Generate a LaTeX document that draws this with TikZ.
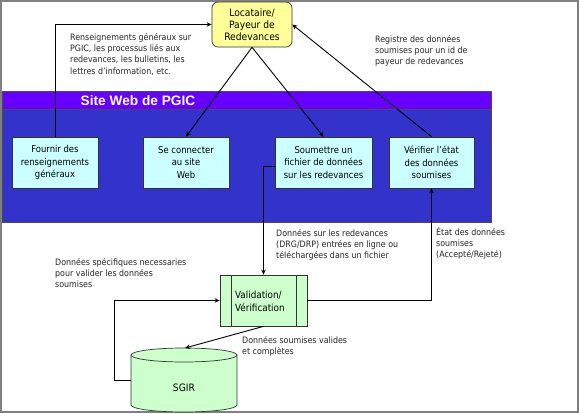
\documentclass[tikz,border=0pt]{standalone}
\usepackage{fontspec}
\setmainfont{DejaVu Sans Condensed}
\newfontfamily\titlefont{Liberation Sans}
\usetikzlibrary{arrows.meta}
\definecolor{webblue}{HTML}{3333CC}
\definecolor{webpurple}{HTML}{6600FF}
\definecolor{boxcyan}{HTML}{CCFFFF}
\definecolor{boxyellow}{HTML}{FFFF99}
\definecolor{boxgreen}{HTML}{CCFFCC}
\definecolor{framegray}{HTML}{808080}
\begin{document}
\begin{tikzpicture}[x=1pt,y=-1pt,
  arr/.style={draw=black,line width=0.9pt,-{Stealth[length=5pt,width=4.5pt]}},
  taskbox/.style={draw=black!80,line width=0.7pt,fill=boxcyan,minimum height=51pt,inner sep=1pt,align=center,font=\fontsize{9.4}{12.8}\selectfont},
  note/.style={anchor=north west,inner sep=0pt,align=left,font=\fontsize{8.8}{11.3}\selectfont,text=black!85}]
\useasboundingbox (0,0) rectangle (580,414);
\fill[white] (0,0) rectangle (580,414);
\draw[framegray,line width=1.5pt] (1,1) rectangle (578,412);
% web site band
\fill[webblue] (2,91) rectangle (491,222);
\fill[webpurple] (2,91) rectangle (491,109);
\draw[black!70,line width=0.6pt] (2,109) -- (491,109);
\draw[black!70,line width=0.6pt] (2,91) rectangle (491,222);
\node[font=\titlefont\bfseries\fontsize{13.7}{15}\selectfont,text=white] (title) at (138,100.5) {Site Web de PGIC};
% nodes
\node[draw=black!80,line width=0.7pt,fill=boxyellow,rounded corners=6pt,minimum width=80pt,minimum height=45pt,align=center,inner sep=1pt,font=\fontsize{10.2}{12}\selectfont] (loc) at (252,24.5) {Locataire/\\Payeur de\\Redevances};
\node[taskbox,minimum width=86pt] (fournir) at (55,162.5) {Fournir des\\renseignements\\généraux};
\node[taskbox,minimum width=86pt] (connect) at (186,162.5) {Se connecter\\au site\\Web};
\node[taskbox,minimum width=97pt] (soum) at (323.5,162.5) {Soumettre un\\fichier de données\\sur les redevances};
\node[taskbox,minimum width=85pt] (verif) at (431.5,162.5) {Vérifier l’état\\des données\\soumises};
\node[draw=black!80,line width=0.7pt,fill=boxgreen,minimum width=87pt,minimum height=51pt] (valid) at (263.5,300.5) {};
\draw[black!80,line width=0.7pt] (231,275) -- (231,326) (296,275) -- (296,326);
\node[anchor=west,align=left,inner sep=0pt,font=\fontsize{9.8}{13}\selectfont] (validtxt) at (235,301) {Validation/\\Vérification};
% SGIR cylinder
\filldraw[fill=boxgreen,draw=black!80,line width=0.7pt] (131,355) -- (131,405) arc[start angle=180,end angle=0,x radius=53,y radius=7] -- (237,355);
\filldraw[fill=boxgreen,draw=black!80,line width=0.7pt] (184,355) ellipse[x radius=53,y radius=7];
\node[minimum width=106pt,minimum height=64pt,inner sep=0pt] (sgir) at (184,380) {};
\node[font=\fontsize{10.2}{12}\selectfont] (sgirtxt) at (184,388) {SGIR};
\coordinate (sgirtop) at (185,348);
% notes
\node[note] (n1) at (70,33) {Renseignements généraux sur\\PGIC, les processus liés aux\\redevances, les bulletins, les\\lettres d’information, etc.};
\node[note] (n2) at (375,35) {Registre des données\\soumises pour un id de\\payeur de redevances};
\node[note] (n3) at (276,229) {Données sur les redevances\\(DRG/DRP) entrées en ligne ou\\téléchargées dans un fichier};
\node[note] (n4) at (436,227) {État des données\\soumises\\(Accepté/Rejeté)};
\node[note] (n5) at (55,258) {Données spécifiques necessaries\\pour valider les données\\soumises};
\node[note] (n6) at (242,336) {Données soumises valides\\et complètes};
% connectors
\draw[arr] (fournir.north) |- (loc.west);
\draw[arr] (loc.south) -- (connect.north);
\draw[arr] (loc.south) -- (soum.north);
\draw[arr] (verif.north) -- (loc.east);
\draw[arr] ([yshift=-4pt]soum.west) -| (valid.north);
\draw[arr] (valid.east) -| (verif.south);
\draw[arr] (valid.south) -- (sgirtop);
\draw[arr] (sgir.west) -- ++(-16,0) |- (valid.west);
\end{tikzpicture}
\end{document}
